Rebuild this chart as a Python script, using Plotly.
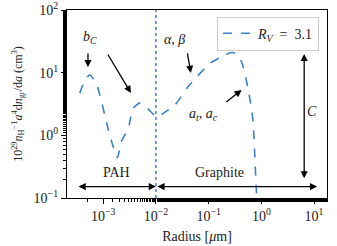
import plotly.graph_objects as go
import math

# Curve data: grain radius (um) and 10^29 n_H^-1 a^4 dn/da (cm^3)
radius = [3.6e-4, 4.5e-4, 5.6e-4, 7.6e-4, 1.17e-3, 1.45e-3, 1.86e-3, 2.2e-3, 3.0e-3, 3.7e-3,
          5.0e-3, 7.2e-3, 1.06e-2, 1.5e-2, 2.3e-2, 4.1e-2, 0.107, 0.20, 0.275, 0.355,
          0.427, 0.55, 0.69, 0.81, 0.89]
size_dist = [4.7, 7.6, 9.2, 6.3, 1.55, 0.79, 0.44, 0.79, 1.30, 2.7,
             3.3, 2.6, 1.95, 2.36, 3.05, 6.0, 14.1, 19.0, 21.0, 19.5,
             14.5, 6.0, 1.8, 0.12, 0.05]
series_name = "<i>R</i><sub><i>V</i></sub>\u2002=\u20023.1"
boundary = 0.01
y_range = [0.1, 100]
x_range = [2.06e-4, 17.6]

x_ticks = [1e-3, 1e-2, 1e-1, 1e0, 1e1]
x_ticktext = ["10<sup>−3</sup>", "10<sup>−2</sup>", "10<sup>−1</sup>", "10<sup>0</sup>", "10<sup>1</sup>"]
y_ticks = [0.1, 1, 10, 100]
y_ticktext = ["10<sup>−1</sup>", "10<sup>0</sup>", "10<sup>1</sup>", "10<sup>2</sup>"]

L = math.log10
font = "Liberation Serif"
txt = "#222"

fig = go.Figure()
fig.add_trace(go.Scatter(x=radius, y=size_dist, mode="lines", name=series_name,
                         line=dict(color="#3b82c4", width=1.6, dash="dash", shape="spline", smoothing=0.6)))
fig.add_trace(go.Scatter(x=[boundary, boundary], y=y_range, mode="lines", showlegend=False,
                         line=dict(color="#2a62d8", width=1.3, dash="dot")))

def arrow(x0, y0, x1, y1, both=False):
    fig.add_annotation(x=L(x1), y=L(y1), ax=L(x0), ay=L(y0), xref="x", yref="y", axref="x", ayref="y",
                       showarrow=True, arrowhead=2, arrowsize=1.1, arrowwidth=1.3, arrowcolor="black",
                       arrowside="end+start" if both else "end", text="")

def label(x, y, t, size=12):
    fig.add_annotation(x=L(x), y=L(y), xref="x", yref="y", text=t, showarrow=False,
                       font=dict(family=font, size=size, color=txt))

label(5.6e-4, 37, "<i>b</i><sub><i>C</i></sub>", 14)
arrow(5.15e-4, 21.4, 5.15e-4, 12.3)
arrow(1.18e-3, 20.6, 3.36e-3, 4.74)
label(0.0229, 34.4, "<i>α</i>, <i>β</i>", 14)
arrow(0.0392, 21.4, 0.046, 9.9)
label(0.081, 2.19, "<i>a</i><sub><i>t</i></sub>, <i>a</i><sub><i>c</i></sub>", 14)
arrow(0.203, 3.25, 0.422, 5.3)
label(8.95, 2.39, "<i>C</i>", 14)
arrow(6.5, 0.195, 6.5, 19.9, both=True)
arrow(3.2e-4, 0.152, boundary, 0.152, both=True)
arrow(boundary, 0.152, 11.4, 0.152, both=True)
label(1.82e-3, 0.251, "PAH", 14)
label(0.163, 0.251, "Graphite", 14)

axis_common = dict(type="log", showline=True, linecolor="black", linewidth=1.3, mirror=True,
                   ticks="outside", ticklen=5, tickwidth=1.1, tickcolor="black", showgrid=False,
                   zeroline=False, automargin=False, tickfont=dict(family=font, size=14, color=txt),
                   minor=dict(ticks="outside", ticklen=3, tickwidth=0.8, tickcolor="black", showgrid=False))

fig.update_xaxes(**axis_common, range=[L(x_range[0]), L(x_range[1])], tickvals=x_ticks, ticktext=x_ticktext,
                 title=dict(text="Radius [<i>μ</i>m]", font=dict(family=font, size=14, color=txt), standoff=8))
fig.update_yaxes(**axis_common, range=[L(y_range[0]), L(y_range[1])], tickvals=y_ticks, ticktext=y_ticktext,
                 title=dict(text="10<sup>29</sup><i>n</i><sub>H</sub><sup>−1</sup><i>a</i><sup>4</sup>d<i>n</i><sub>gr</sub>/d<i>a</i> (cm<sup>3</sup>)",
                            font=dict(family=font, size=12, color=txt), standoff=8))

fig.update_layout(width=337, height=246, margin=dict(l=67, r=10, t=10, b=48),
                  plot_bgcolor="white", paper_bgcolor="white",
                  font=dict(family=font, color=txt),
                  legend=dict(x=0.969, y=0.965, xanchor="right", yanchor="top", bgcolor="white",
                              bordercolor="#cccccc", borderwidth=1,
                              font=dict(family=font, size=14, color=txt)))
fig.write_html("out.html", config={"displayModeBar": False},
               post_script="document.body.style.margin='0px';")
